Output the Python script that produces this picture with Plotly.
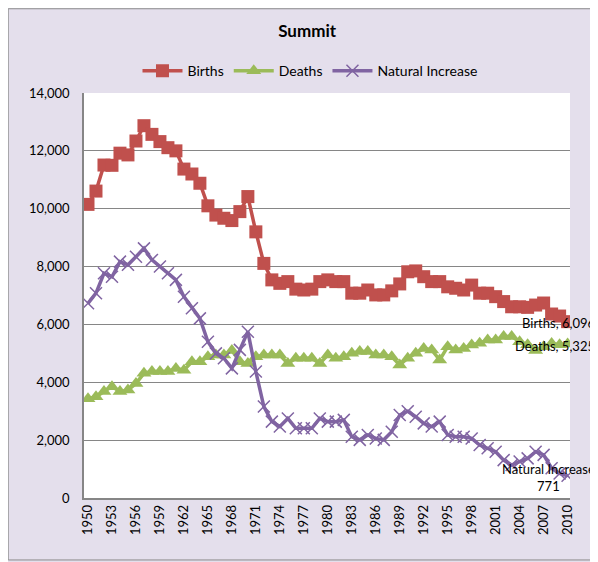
import plotly.graph_objects as go

years = list(range(1950, 2011))

births = [10150, 10610, 11510, 11500, 11920, 11860, 12340, 12870, 12570, 12320,
          12110, 12000, 11370, 11200, 10880, 10100, 9780, 9670, 9590, 9900,
          10420, 9200, 8110, 7540, 7420, 7480, 7220, 7190, 7220, 7480,
          7540, 7480, 7480, 7080, 7080, 7190, 7020, 7020, 7160, 7400,
          7820, 7850, 7650, 7480, 7480, 7300, 7250, 7190, 7360, 7080,
          7080, 6960, 6790, 6610, 6610, 6590, 6670, 6740, 6360, 6290,
          6096]

deaths = [3430, 3500, 3680, 3850, 3680, 3730, 3960, 4310, 4370, 4370,
          4370, 4480, 4420, 4710, 4710, 4880, 4940, 4940, 5100, 4710,
          4650, 4880, 4940, 4940, 4940, 4650, 4830, 4830, 4830, 4650,
          4940, 4830, 4880, 5000, 5060, 5060, 4940, 4940, 4880, 4600,
          4830, 5000, 5170, 5120, 4770, 5230, 5120, 5170, 5290, 5350,
          5460, 5460, 5580, 5580, 5400, 5300, 5100, 5230, 5340, 5300,
          5325]

natural = [6730, 7080, 7770, 7650, 8170, 8060, 8340, 8630, 8230, 8000,
           7770, 7540, 6960, 6560, 6210, 5400, 5000, 4830, 4480, 5120,
           5750, 4370, 3160, 2640, 2470, 2750, 2410, 2410, 2410, 2750,
           2640, 2640, 2700, 2120, 2010, 2180, 2060, 2010, 2290, 2870,
           3000, 2810, 2580, 2470, 2640, 2180, 2120, 2120, 2060, 1830,
           1720, 1600, 1310, 1140, 1260, 1370, 1600, 1490, 1030, 850,
           771]

tick_years = list(range(1950, 2011, 3))
font = "Lato, 'Open Sans', sans-serif"

fig = go.Figure()
fig.add_trace(go.Scatter(x=years, y=births, mode='lines+markers', name='Births',
                         line=dict(color='#C0504D', width=3.5),
                         marker=dict(symbol='square', size=13, color='#C0504D')))
fig.add_trace(go.Scatter(x=years, y=deaths, mode='lines+markers', name='Deaths',
                         line=dict(color='#9BBB59', width=3.5),
                         marker=dict(symbol='triangle-up', size=13, color='#9BBB59')))
fig.add_trace(go.Scatter(x=years, y=natural, mode='lines+markers', name='Natural Increase',
                         line=dict(color='#8064A2', width=3.5),
                         marker=dict(symbol='x-thin', size=12,
                                     line=dict(color='#8064A2', width=1.5))))

# end-of-series data labels
fig.add_annotation(x=2010, y=births[-1], text="Births, 6,096", showarrow=False,
                   xanchor='right', xshift=29, yshift=-1, font=dict(size=13, color='black'))
fig.add_annotation(x=2010, y=deaths[-1], text="Deaths, 5,325", showarrow=False,
                   xanchor='right', xshift=29, yshift=-2, font=dict(size=13, color='black'))
fig.add_annotation(x=2010, y=natural[-1], text="Natural Increase<br>771", showarrow=False,
                   xanchor='right', xshift=29, yshift=-2, align='center',
                   font=dict(size=13, color='black'))

# outer frame of the chart area
fig.add_shape(type='rect', xref='paper', yref='paper', x0=-0.156, x1=1.2, y0=-0.153, y1=1.208,
              line=dict(color='#8C8C8C', width=1), layer='below')

fig.update_layout(
    width=590, height=554,
    margin=dict(l=76, r=28, t=85, b=64),
    paper_bgcolor='#E4DFEC', plot_bgcolor='white',
    font=dict(family=font, size=13, color='black'),
    title=dict(text="<b>Summit</b>", x=0.507, xanchor='center', y=0.958, yanchor='middle',
               font=dict(size=17)),
    legend=dict(orientation='h', x=0.465, xanchor='center', y=1.054, yanchor='middle',
                bgcolor='rgba(0,0,0,0)', font=dict(size=14), itemwidth=40),
    showlegend=True,
)
fig.update_xaxes(range=[1949.5, 2010.3], tickvals=tick_years, tickangle=-90,
                 showgrid=False, showline=True, linecolor='#868686', linewidth=1.5,
                 ticks='', zeroline=False, tickfont=dict(size=13))
fig.update_yaxes(range=[0, 14000], dtick=2000, tickformat=',', showgrid=True,
                 gridcolor='#868686', gridwidth=1, showline=True, linecolor='#868686',
                 linewidth=1.5, zeroline=False, ticks='', ticklabelstandoff=10,
                 tickfont=dict(size=13))

fig.write_html("out.html")
